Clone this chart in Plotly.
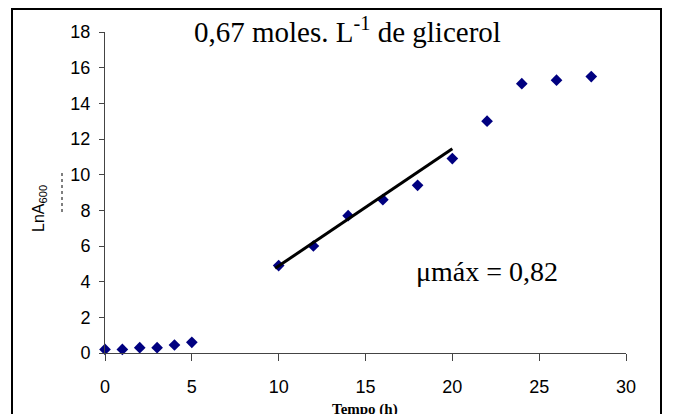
import plotly.graph_objects as go

time_h = [0, 1, 2, 3, 4, 5, 10, 12, 14, 16, 18, 20, 22, 24, 26, 28]
ln_a600 = [0.2, 0.2, 0.3, 0.3, 0.45, 0.6, 4.9, 6.0, 7.7, 8.6, 9.4, 10.9, 13.0, 15.1, 15.3, 15.5]
trend_x = [9.8, 20.0]
trend_y = [4.75, 11.45]
x_ticks = [0, 5, 10, 15, 20, 25, 30]
y_ticks = [0, 2, 4, 6, 8, 10, 12, 14, 16, 18]

W, H = 675, 414
OFF = 8  # page body margin
# plot area in screen pixels: x 105..626, y 32..353
L = 105 - OFF
T = 32 - OFF
R = W - (626 - OFF)
B = H - (353 - OFF)
pw, ph = W - L - R, H - T - B

def px(x):
    return (x - OFF - L) / pw

def py(y):
    return (H - B - (y - OFF)) / ph

fig = go.Figure()
fig.add_trace(go.Scatter(x=time_h, y=ln_a600, mode="markers",
                         marker=dict(symbol="diamond", size=9, color="#000080"),
                         cliponaxis=False, showlegend=False))
fig.add_trace(go.Scatter(x=trend_x, y=trend_y, mode="lines",
                         line=dict(color="black", width=3),
                         cliponaxis=False, showlegend=False))

tickfont = dict(family="Liberation Sans, Arial", size=18, color="black")
fig.update_xaxes(range=[0, 30], tickvals=x_ticks, ticks="outside", ticklen=7,
                 tickcolor="#444", showline=True, linecolor="#444", linewidth=1,
                 showgrid=False, zeroline=False, tickfont=tickfont,
                 ticklabelstandoff=10)
fig.update_yaxes(range=[0, 18], tickvals=y_ticks, ticks="outside", ticklen=5,
                 tickcolor="#444", showline=True, linecolor="#444", linewidth=1,
                 showgrid=False, zeroline=False, tickfont=tickfont,
                 ticklabelstandoff=5)

serif = "Liberation Serif, Times New Roman"
fig.add_annotation(x=px(347), y=py(30), xref="paper", yref="paper",
                   text="0,67 moles. L<sup>-1</sup> de glicerol", showarrow=False,
                   font=dict(family=serif, size=29, color="black"),
                   xanchor="center", yanchor="middle")
fig.add_annotation(x=px(487), y=py(271), xref="paper", yref="paper",
                   text="μmáx = 0,82", showarrow=False,
                   font=dict(family=serif, size=28, color="black"),
                   xanchor="center", yanchor="middle")
fig.add_annotation(x=px(40), y=py(209), xref="paper", yref="paper",
                   text="LnA<sub>600</sub>", showarrow=False, textangle=-90,
                   font=dict(family="Liberation Sans, Arial", size=16, color="black"),
                   xanchor="center", yanchor="middle")
fig.add_annotation(x=px(365), y=py(410), xref="paper", yref="paper",
                   text="<b>Tempo (h)</b>", showarrow=False,
                   font=dict(family=serif, size=15, color="black"),
                   xanchor="center", yanchor="middle")

fig.add_shape(type="line", xref="paper", yref="paper",
              x0=px(62), x1=px(62), y0=py(173), y1=py(213),
              line=dict(color="#555", width=1.5, dash="dot"))
fig.add_shape(type="rect", xref="paper", yref="paper",
              x0=px(12), x1=px(661), y0=py(9), y1=py(430),
              line=dict(color="black", width=2), fillcolor="rgba(0,0,0,0)")

fig.update_layout(width=W, height=H, margin=dict(l=L, r=R, t=T, b=B),
                  paper_bgcolor="white", plot_bgcolor="white")
fig.write_html("out.html")
